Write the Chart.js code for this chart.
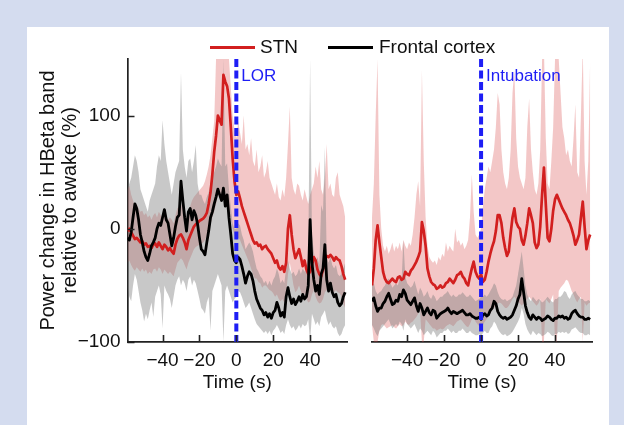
<!DOCTYPE html>
<html><head><meta charset="utf-8">
<script src="https://cdn.jsdelivr.net/npm/chart.js@4"></script>
<style>
html,body{margin:0;padding:0;}
body{width:624px;height:425px;background:#d4dcef;position:relative;overflow:hidden;font-family:'Liberation Sans',Arial,sans-serif;}
#panel{position:absolute;left:27px;top:27px;width:582px;height:398px;background:#fff;}
canvas{position:absolute;left:0;top:0;}
#legend{position:absolute;top:36px;left:0;width:624px;height:22px;}
.sw{position:absolute;height:3px;top:10px;}
.lt{position:absolute;top:0;font-size:19px;line-height:22px;color:#111;white-space:nowrap;}
</style></head>
<body>
<div id="panel"></div>
<canvas id="c1" width="624" height="425"></canvas>
<canvas id="c2" width="624" height="425"></canvas>
<div id="legend">
 <div class="sw" style="left:210px;width:45px;background:#d21f1f"></div>
 <div class="lt" id="lg1" style="left:260px"></div>
 <div class="sw" style="left:328px;width:45px;background:#000"></div>
 <div class="lt" id="lg2" style="left:379px"></div>
</div>
<script>
const SERIES_NAMES = ['STN', 'Frontal cortex'];
const EVENT_LABELS = ['LOR', 'Intubation'];
const X_TITLE = 'Time (s)';
const Y_TITLE = ['Power change in HBeta band', 'relative to awake (%)'];
const X_TICKS = [-40, -20, 0, 20, 40];
const Y_TICKS = [-100, 0, 100];

const TIME = [
 -59,-58,-57,-56,-55,-54,-53,-52,-51,-50,
 -49,-48,-47,-46,-45,-44,-43,-42,-41,-40,
 -39,-38,-37,-36,-35,-34,-33,-32,-31,-30,
 -29,-28,-27,-26,-25,-24,-23,-22,-21,-20,
 -19,-18,-17,-16,-15,-14,-13,-12,-11,-10,
 -9,-8,-7,-6,-5,-4,-3,-2,-1,0,
 1,2,3,4,5,6,7,8,9,10,
 11,12,13,14,15,16,17,18,19,20,
 21,22,23,24,25,26,27,28,29,30,
 31,32,33,34,35,36,37,38,39,40,
 41,42,43,44,45,46,47,48,49,50,
 51,52,53,54,55,56,57,58,59
];

// ---- LOR panel ----
const LOR_STN = [
 -2,0,-3,-6,-9,-8,-10,-12,-11,-14,
 -13,-16,-15,-17,-14,-13,-16,-12,-15,-18,
 -14,-16,-19,-17,-20,-22,-14,-9,-6,-5,
 -8,-12,-18,-10,-6,-2,2,4,5,7,
 8,9,11,14,22,32,48,68,82,100,
 96,92,136,130,126,115,90,62,42,30,
 33,27,20,15,10,5,0,-5,-10,-13,
 -12,-15,-14,-18,-16,-15,-18,-20,-22,-26,
 -30,-28,-34,-36,-33,-38,-30,0,12,-5,
 -18,-26,-22,-18,-25,-33,-28,-36,-40,-38,
 -32,-25,-28,-36,-40,-42,-36,-28,-24,-25,
 -23,-25,-28,-25,-27,-28,-33,-40,-45
];
const LOR_STN_UP = [
 35,38,30,25,20,22,18,15,16,12,
 14,10,12,8,12,14,10,15,12,10,
 14,12,8,10,8,5,12,18,20,22,
 18,15,10,16,20,25,28,30,32,34,
 36,38,42,48,55,65,80,95,150,160,
 160,160,160,160,160,150,125,100,88,80,
 95,85,75,100,70,75,65,80,60,55,
 70,50,55,65,45,50,60,45,40,35,
 30,40,28,25,35,28,45,75,108,45,
 35,30,40,38,30,25,35,28,22,30,
 35,40,55,45,60,35,30,45,75,35,
 40,30,28,45,50,30,25,20,10
];
const LOR_STN_LO = [
 -30,-28,-32,-35,-37,-34,-36,-38,-35,-38,
 -36,-40,-38,-40,-36,-35,-38,-34,-36,-40,
 -36,-38,-40,-38,-40,-42,-36,-30,-28,-26,
 -28,-32,-36,-30,-26,-22,-18,-16,-15,-14,
 -13,-12,-10,-6,-2,4,10,15,22,30,
 32,30,36,32,25,18,8,0,-5,-10,
 -8,-10,-14,-18,-22,-26,-30,-35,-40,-44,
 -44,-47,-48,-52,-50,-50,-52,-54,-55,-57,
 -60,-58,-62,-64,-62,-65,-58,-40,-30,-40,
 -50,-56,-54,-50,-55,-60,-57,-62,-65,-64,
 -58,-54,-60,-64,-66,-65,-62,-56,-54,-55,
 -52,-54,-56,-54,-56,-57,-60,-66,-70
];
const LOR_CTX = [
 -8,-10,-3,10,22,18,8,-5,-12,-20,
 -25,-28,-22,-15,-12,-8,0,5,3,10,
 17,8,5,-5,-15,-8,2,10,12,42,
 25,10,-2,15,18,8,16,12,4,-8,
 -18,-20,-23,-12,-2,10,15,22,28,35,
 30,25,36,20,30,10,-5,-22,-28,-30,
 -25,-27,-33,-40,-48,-42,-38,-40,-46,-55,
 -62,-66,-70,-72,-76,-74,-78,-75,-79,-74,
 -72,-65,-70,-77,-74,-78,-60,-52,-60,-66,
 -62,-67,-64,-60,-64,-58,-62,-60,-50,8,
 -30,-45,-55,-50,-58,-40,-35,-14,-45,-55,
 -48,-56,-60,-58,-65,-68,-66,-60,-56
];
const LOR_CTX_UP = [
 35,40,45,55,65,60,50,35,30,25,
 20,15,25,30,35,40,55,65,60,96,
 75,60,50,40,30,40,50,55,60,138,
 70,55,45,60,62,50,60,74,40,30,
 30,25,22,28,32,40,45,50,55,62,
 58,55,150,55,58,35,20,5,0,0,
 5,3,-5,-10,-18,-15,-12,-15,-20,-28,
 -35,-38,-42,-44,-48,-46,-50,-46,-50,-45,
 -42,-35,-40,-48,-45,-48,-35,-28,-35,-40,
 -38,-42,-40,-35,-40,-35,-38,-36,-25,150,
 -5,-20,-30,-25,-32,21,15,72,-25,-30,
 -25,-32,-35,-32,-40,-42,-40,-35,-30
];
const LOR_CTX_LO = [
 -52,-60,-64,-50,-40,-45,-55,-65,-72,-82,
 -75,-80,-72,-65,-78,-60,-55,-50,-58,-88,
 -50,-55,-58,-62,-70,-60,-50,-45,-42,-50,
 -45,-48,-55,-45,-42,-50,-45,-48,-55,-62,
 -70,-72,-75,-65,-60,-90,-55,-50,-45,-40,
 -45,-50,-100,-55,-50,-55,-60,-65,-62,-60,
 -55,-56,-60,-65,-70,-68,-65,-70,-75,-80,
 -84,-86,-88,-90,-92,-90,-93,-90,-94,-90,
 -88,-85,-88,-92,-90,-93,-85,-80,-85,-88,
 -86,-90,-88,-85,-88,-84,-86,-85,-80,-100,
 -75,-80,-85,-82,-86,-78,-75,-72,-80,-85,
 -82,-86,-88,-86,-92,-95,-93,-88,-85
];

// ---- Intubation panel ----
const INT_STN = [
 -50,-35,-10,3,-12,-25,-38,-44,-47,-48,
 -46,-44,-46,-47,-43,-42,-45,-44,-38,-40,
 -41,-37,-35,-32,-29,-25,-20,6,-2,-15,
 -35,-42,-47,-49,-50,-53,-52,-50,-52,-51,
 -48,-47,-44,-46,-48,-45,-41,-40,-38,-42,
 -44,-48,-50,-42,-35,-29,-38,-42,-44,-40,
 -47,-45,-38,-29,-22,-16,-11,-2,12,12,
 5,-8,-17,-24,-20,-4,10,18,6,2,
 0,-10,-14,-6,5,18,12,5,-12,-17,
 -14,2,30,54,22,-8,-11,0,16,26,
 30,26,22,18,15,12,8,5,0,-6,
 -14,-10,-5,10,24,2,-18,-10,-5
];
const INT_STN_UP = [
 10,40,100,150,30,0,-15,-20,-15,-22,
 -18,-12,-20,-15,-18,-12,-20,-10,-15,-18,
 -12,-15,-5,10,30,42,20,140,60,10,
 -15,-25,-28,-30,-28,-32,-25,-28,-22,-25,
 -12,-20,-15,-18,-20,0,-12,-10,-15,-12,
 -18,-15,-10,10,48,15,-5,-8,-5,0,
 20,35,45,55,50,60,70,90,120,110,
 70,50,40,35,45,70,120,140,80,55,
 45,40,35,45,90,115,70,50,35,30,
 40,70,150,160,80,40,35,60,90,150,
 160,150,120,90,80,65,70,60,55,80,
 110,50,45,100,160,60,30,60,150
];
const INT_STN_LO = [
 -85,-100,-100,-100,-90,-85,-84,-86,-88,-87,
 -86,-85,-87,-88,-86,-84,-86,-85,-82,-84,
 -85,-83,-82,-80,-78,-75,-72,-100,-100,-80,
 -82,-84,-86,-88,-88,-90,-89,-88,-89,-88,
 -86,-85,-84,-85,-86,-84,-82,-81,-80,-82,
 -84,-86,-87,-84,-80,-78,-82,-84,-86,-88,
 -85,-82,-80,-78,-75,-72,-70,-68,-66,-65,
 -66,-68,-70,-70,-68,-65,-62,-60,-62,-64,
 -66,-68,-66,-64,-62,-60,-62,-64,-66,-68,
 -66,-62,-100,-100,-62,-64,-66,-62,-58,-100,
 -100,-55,-52,-50,-48,-45,-46,-50,-55,-58,
 -62,-65,-62,-60,-100,-65,-68,-66,-65
];
const INT_CTX = [
 -64,-61,-68,-73,-70,-70,-66,-64,-60,-57,
 -62,-67,-66,-63,-64,-58,-60,-54,-57,-63,
 -65,-67,-64,-61,-68,-73,-66,-70,-76,-73,
 -70,-74,-76,-72,-73,-79,-77,-75,-74,-73,
 -72,-70,-73,-75,-73,-74,-75,-74,-73,-72,
 -74,-76,-76,-75,-77,-78,-79,-79,-78,-80,
 -76,-75,-77,-76,-72,-70,-64,-66,-73,-76,
 -78,-79,-78,-80,-79,-78,-76,-72,-68,-62,
 -58,-44,-56,-68,-74,-78,-80,-76,-78,-80,
 -78,-79,-81,-80,-79,-77,-78,-80,-81,-79,
 -79,-77,-78,-77,-79,-78,-80,-79,-75,-73,
 -72,-75,-77,-78,-78,-80,-80,-79,-80
];
const INT_CTX_UP = [
 -50,-48,-55,-58,-56,-55,-52,-50,-46,-44,
 -48,-52,-50,-48,-50,-44,-46,-10,-42,-48,
 -50,-52,-50,-46,-52,-58,-52,-55,-60,-58,
 -55,-60,-62,-58,-60,-64,-62,-60,-60,-58,
 -57,-55,-58,-60,-58,-60,-60,-58,-58,-56,
 -58,-60,-60,-58,-60,-62,-64,-63,-62,-60,
 -60,-58,-60,-58,-55,-52,-48,-50,-56,-60,
 -62,-63,-62,-64,-63,-62,-60,-55,-50,-40,
 -30,-20,-35,-50,-58,-62,-64,-60,-62,-64,
 -62,-63,-65,-64,-62,-60,-62,-64,-65,-62,
 -62,-60,-60,-58,-55,-56,-60,-62,-58,-56,
 -55,-58,-60,-62,-62,-64,-64,-63,-64
];
const INT_CTX_LO = [
 -85,-88,-92,-95,-90,-88,-86,-84,-82,-80,
 -84,-88,-86,-84,-86,-82,-84,-90,-80,-84,
 -86,-88,-86,-84,-88,-92,-88,-90,-94,-92,
 -90,-92,-94,-90,-92,-96,-94,-92,-92,-90,
 -90,-88,-90,-92,-90,-92,-92,-90,-90,-88,
 -90,-92,-92,-90,-92,-93,-94,-94,-93,-95,
 -92,-90,-92,-92,-88,-86,-82,-84,-88,-91,
 -93,-94,-93,-95,-94,-93,-91,-88,-85,-82,
 -78,-70,-75,-84,-89,-92,-94,-90,-92,-94,
 -92,-93,-95,-94,-93,-91,-92,-94,-95,-93,
 -93,-91,-92,-91,-92,-91,-93,-92,-89,-88,
 -87,-89,-91,-92,-92,-94,-94,-93,-94
];

const FONT = "'Liberation Sans', Arial, sans-serif";
document.getElementById('lg1').textContent = SERIES_NAMES[0];
document.getElementById('lg2').textContent = SERIES_NAMES[1];

function pts(arr) { return TIME.map((t, i) => ({ x: t, y: arr[i] })); }
function fmt(v) { return v < 0 ? '\u2212' + Math.abs(v) : String(v); }

const inwardTicks = {
  id: 'inwardTicks',
  afterDraw(chart) {
    const ctx = chart.ctx, a = chart.chartArea, xs = chart.scales.x, ys = chart.scales.y;
    ctx.save();
    ctx.strokeStyle = '#222'; ctx.lineWidth = 1.6;
    ctx.beginPath();
    xs.ticks.forEach(tk => { const px = Math.round(xs.getPixelForValue(tk.value)) + 0.5; ctx.moveTo(px, a.bottom); ctx.lineTo(px, a.bottom - 7); });
    if (chart.options.scales.y.display) {
      ys.ticks.forEach(tk => { const py = Math.round(ys.getPixelForValue(tk.value)) + 0.5; ctx.moveTo(a.left, py); ctx.lineTo(a.left + 7, py); });
    }
    ctx.stroke();
    ctx.restore();
  }
};
const eventLine = {
  id: 'eventLine',
  afterDatasetsDraw(chart, args, opts) {
    const ctx = chart.ctx, a = chart.chartArea, xs = chart.scales.x;
    const px = xs.getPixelForValue(0);
    ctx.save();
    ctx.strokeStyle = '#1e1ef5'; ctx.lineWidth = 4; ctx.setLineDash([8, 3.5]);
    ctx.beginPath(); ctx.moveTo(px, a.top); ctx.lineTo(px, a.bottom); ctx.stroke();
    ctx.setLineDash([]);
    ctx.fillStyle = '#1e1ef5';
    ctx.font = '17px ' + FONT;
    ctx.textBaseline = 'middle'; ctx.textAlign = 'left';
    ctx.fillText(opts.label, px + 5, a.top + 17);
    ctx.restore();
  }
};

function makeChart(id, d, label, left) {
  const none = 'rgba(0,0,0,0)';
  const datasets = [
    { data: pts(d.redUp), borderWidth: 0, borderColor: none, pointRadius: 0, fill: 1, backgroundColor: 'rgba(214,70,70,0.30)', order: 3 },
    { data: pts(d.redLo), borderWidth: 0, borderColor: none, pointRadius: 0, fill: false, order: 3 },
    { data: pts(d.grayUp), borderWidth: 0, borderColor: none, pointRadius: 0, fill: 3, backgroundColor: 'rgba(125,125,125,0.42)', order: 2 },
    { data: pts(d.grayLo), borderWidth: 0, borderColor: none, pointRadius: 0, fill: false, order: 2 },
    { label: SERIES_NAMES[0], data: pts(d.red), borderColor: '#d21f1f', borderWidth: 2.7, pointRadius: 0, fill: false, order: 1 },
    { label: SERIES_NAMES[1], data: pts(d.black), borderColor: '#000000', borderWidth: 2.8, pointRadius: 0, fill: false, order: 0 }
  ];
  return new Chart(document.getElementById(id), {
    type: 'line',
    data: { datasets },
    plugins: [inwardTicks, eventLine],
    options: {
      responsive: false, animation: false, events: [],
      layout: { padding: left ? { left: 0, right: 277, top: 59, bottom: 23 } : { left: 372, right: 32, top: 59, bottom: 23 } },
      elements: { line: { tension: 0, borderJoinStyle: 'round' } },
      plugins: { legend: { display: false }, tooltip: { enabled: false }, eventLine: { label } },
      scales: {
        x: {
          type: 'linear', min: -59, max: 60,
          afterBuildTicks: s => { s.ticks = X_TICKS.map(v => ({ value: v })); },
          afterFit: s => { s.height = 60; },
          grid: { display: false, drawTicks: false },
          border: { display: true, color: '#222', width: 1.7 },
          ticks: { padding: 7, color: '#111', font: { size: 19, family: FONT }, callback: v => fmt(v), maxRotation: 0, autoSkip: false },
          title: { display: true, text: X_TITLE, color: '#111', font: { size: 19, family: FONT, lineHeight: 1.2 }, padding: { top: 0, bottom: 8 } }
        },
        y: {
          type: 'linear', display: left, min: -100, max: 150,
          afterBuildTicks: s => { s.ticks = Y_TICKS.map(v => ({ value: v })); },
          afterFit: s => { s.width = left ? 127.5 : 0; },
          grid: { display: false, drawTicks: false },
          border: { display: true, color: '#222', width: 1.7 },
          ticks: { padding: 7, color: '#111', font: { size: 19, family: FONT }, callback: v => fmt(v) },
          title: { display: true, text: Y_TITLE, color: '#111', font: { size: 20, family: FONT, lineHeight: 1.1 }, padding: { top: 37, bottom: 0 } }
        }
      }
    }
  });
}

makeChart('c1', { red: LOR_STN, redUp: LOR_STN_UP, redLo: LOR_STN_LO, black: LOR_CTX, grayUp: LOR_CTX_UP, grayLo: LOR_CTX_LO }, EVENT_LABELS[0], true);
makeChart('c2', { red: INT_STN, redUp: INT_STN_UP, redLo: INT_STN_LO, black: INT_CTX, grayUp: INT_CTX_UP, grayLo: INT_CTX_LO }, EVENT_LABELS[1], false);
</script>
</body></html>
